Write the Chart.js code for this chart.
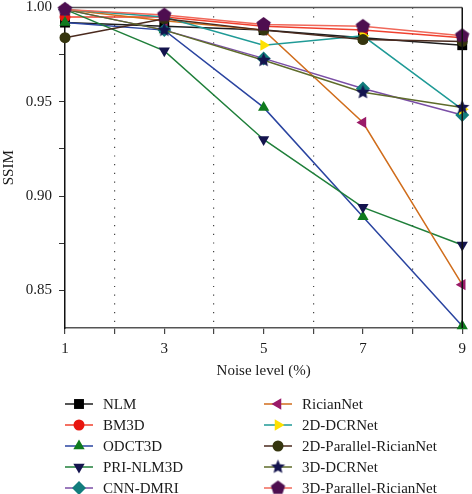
<!DOCTYPE html>
<html>
<head>
<meta charset="utf-8">
<script src="https://cdn.jsdelivr.net/npm/chart.js@4.4.1/dist/chart.umd.min.js"></script>
<style>
  html, body { margin: 0; padding: 0; background: #fff; }
  #wrap { width: 472px; height: 494px; }
</style>
</head>
<body>
<div id="wrap"><canvas id="ssim_chart" width="472" height="494"></canvas></div>
<script>
// values (SSIM vs noise level)
const noiseLevels = [1, 3, 5, 7, 9];
const xTickValues = [1, 2, 3, 4, 5, 6, 7, 8, 9];
const yTickValues = [0.85, 0.875, 0.90, 0.925, 0.95, 0.975, 1.00];

const nlm = [0.992, 0.990, 0.988, 0.984, 0.980];
const bm3d = [0.995, 0.995, 0.990, 0.988, 0.984];
const odct3d = [0.992, 0.988, 0.947, 0.889, 0.831];
const priNlm3d = [0.999, 0.977, 0.930, 0.894, 0.874];
const cnnDmri = [0.999, 0.988, 0.973, 0.957, 0.943];
const ricianNet = [0.999, 0.993, 0.988, 0.939, 0.853];
const dcrNet2d = [0.999, 0.995, 0.980, 0.985, 0.946];
const parallelRician2d = [0.984, 0.994, 0.988, 0.983, 0.982];
const dcrNet3d = [0.999, 0.988, 0.972, 0.955, 0.947];
const parallelRician3d = [0.999, 0.996, 0.991, 0.990, 0.985];

const serif = "'Liberation Serif', 'DejaVu Serif', serif";

// filled star / pentagon markers (Chart.js has no filled versions)
function polyMarker(color, r, points, inner) {
  const c = document.createElement('canvas');
  const s = Math.ceil(r * 2 + 2);
  c.width = s; c.height = s;
  const g = c.getContext('2d');
  g.fillStyle = color;
  g.beginPath();
  const n = inner ? points * 2 : points;
  for (let k = 0; k < n; k++) {
    const rr = inner && k % 2 ? r * inner : r;
    const a = -Math.PI / 2 + k * Math.PI * 2 / n;
    const px = s / 2 + rr * Math.cos(a), py = s / 2 + rr * Math.sin(a);
    k ? g.lineTo(px, py) : g.moveTo(px, py);
  }
  g.closePath();
  g.fill();
  return c;
}
const starImg = polyMarker('#14144e', 7.5, 5, 0.45);
const pentaImg = polyMarker('#4e0e50', 7.5, 5, 0);

function series(label, data, line, marker, style, radius, rotation) {
  return {
    label: label,
    data: data.map((v, i) => ({x: noiseLevels[i], y: v})),
    borderColor: line,
    backgroundColor: marker,
    pointBackgroundColor: marker,
    pointBorderColor: marker,
    pointBorderWidth: 0,
    pointStyle: style,
    pointRadius: radius,
    pointHoverRadius: radius,
    pointRotation: rotation || 0,
    borderWidth: 1.5,
    tension: 0,
    fill: false,
    clip: false,
  };
}

const datasets = [
  series("NLM", nlm, "#1e1e1e", "#000000", "rect", 7),
  series("BM3D", bm3d, "#f0402e", "#e8150f", "circle", 5.5),
  series("ODCT3D", odct3d, "#2a44a0", "#0f7a1e", "triangle", 6.5),
  series("PRI-NLM3D", priNlm3d, "#1f7f3a", "#14144e", "triangle", 6.5, 180),
  series("CNN-DMRI", cnnDmri, "#7a4ea6", "#127d7d", "rectRot", 7),
  series("RicianNet", ricianNet, "#d06d1c", "#9a1a68", "triangle", 6.5, -90),
  series("2D-DCRNet", dcrNet2d, "#1f9a96", "#ffe000", "triangle", 6.5, 90),
  series("2D-Parallel-RicianNet", parallelRician2d, "#4a2a1e", "#35350e", "circle", 5.5),
  series("3D-DCRNet", dcrNet3d, "#5e6b2a", "#14144e", starImg, 7.5),
  series("3D-Parallel-RicianNet", parallelRician3d, "#f0685a", "#4e0e50", pentaImg, 7.5),
];
// later series drawn on top
datasets.forEach((d, i) => { d.order = datasets.length - i; });

const framePlugin = {
  id: 'frame',
  beforeDatasetsDraw(chart) {
    const {ctx, chartArea: a} = chart;
    ctx.save();
    ctx.lineWidth = 1.5;
    ctx.strokeStyle = '#555';
    ctx.beginPath(); ctx.moveTo(a.left, a.top); ctx.lineTo(a.right, a.top); ctx.stroke();
    ctx.restore();
  },
  afterDatasetsDraw(chart) {
    const {ctx, chartArea: a} = chart;
    ctx.save();
    ctx.lineWidth = 1.5;
    ctx.strokeStyle = '#111';
    ctx.beginPath(); ctx.moveTo(a.right, a.top); ctx.lineTo(a.right, a.bottom); ctx.stroke();
    ctx.restore();
  }
};

// two-column legend, filled column by column
const legendPlugin = {
  id: 'colLegend',
  afterDraw(chart) {
    const ctx = chart.ctx;
    const colX = [65, 264];
    const top = 404, rowH = 21;
    ctx.save();
    chart.data.datasets.forEach((ds, i) => {
      const x0 = colX[Math.floor(i / 5)];
      const y = top + (i % 5) * rowH;
      ctx.strokeStyle = ds.borderColor;
      ctx.lineWidth = 1.5;
      ctx.beginPath(); ctx.moveTo(x0, y); ctx.lineTo(x0 + 28, y); ctx.stroke();
      ctx.fillStyle = ds.pointBackgroundColor;
      ctx.strokeStyle = ds.pointBorderColor;
      Chart.helpers.drawPoint(ctx, {
        pointStyle: ds.pointStyle, radius: ds.pointRadius,
        rotation: ds.pointRotation, borderWidth: 0
      }, x0 + 14, y);
      ctx.fillStyle = '#1a1a1a';
      ctx.font = "15px " + serif;
      ctx.textBaseline = 'middle';
      ctx.textAlign = 'left';
      ctx.fillText(ds.label, x0 + 38, y + 1);
    });
    ctx.restore();
  }
};

const ctx = document.getElementById('ssim_chart').getContext('2d');
const chart = new Chart(ctx, {
  type: 'line',
  data: { datasets: datasets },
  options: {
    responsive: false,
    animation: false,
    events: [],
    layout: { padding: { top: 5, right: 5, bottom: 110, left: 0 } },
    plugins: { legend: { display: false }, tooltip: { enabled: false } },
    scales: {
      x: {
        type: 'linear', min: 1, max: 9,
        afterBuildTicks: s => { s.ticks = xTickValues.map(v => ({value: v})); },
        afterFit: s => { s.height = 56; },
        ticks: {
          callback: v => (v % 2 ? String(v) : ''),
          font: { family: serif, size: 15 }, color: '#1a1a1a',
          padding: 6, maxRotation: 0, autoSkip: false,
        },
        grid: {
          drawOnChartArea: true,
          color: c => (c.tick && c.tick.value % 2 === 0 ? '#444' : 'rgba(0,0,0,0)'),
          tickColor: '#444', tickLength: 6, lineWidth: 1.2,
        },
        border: { color: '#555', width: 1.5, dash: [1.2, 7.5] },
        title: {
          display: true, text: 'Noise level (%)',
          font: { family: serif, size: 15 }, color: '#1a1a1a',
          padding: { top: 4, bottom: 4 },
        },
      },
      y: {
        type: 'linear', min: 0.83, max: 1.0,
        afterBuildTicks: s => { s.ticks = yTickValues.map(v => ({value: v})); },
        afterFit: s => { s.width = 65; s.paddingTop = 0; s.paddingBottom = 0; },
        ticks: {
          callback: v => (Math.round(v * 1000) % 50 === 0 ? v.toFixed(2) : ''),
          font: { family: serif, size: 15 }, color: '#1a1a1a',
          padding: 7,
        },
        grid: { drawOnChartArea: false, tickColor: '#333', tickLength: 6 },
        border: { color: '#111', width: 1.5 },
        title: {
          display: true, text: 'SSIM',
          font: { family: serif, size: 15 }, color: '#1a1a1a',
          padding: { top: 0, bottom: 0 },
        },
      },
    },
  },
  plugins: [framePlugin, legendPlugin],
});
</script>
</body>
</html>
